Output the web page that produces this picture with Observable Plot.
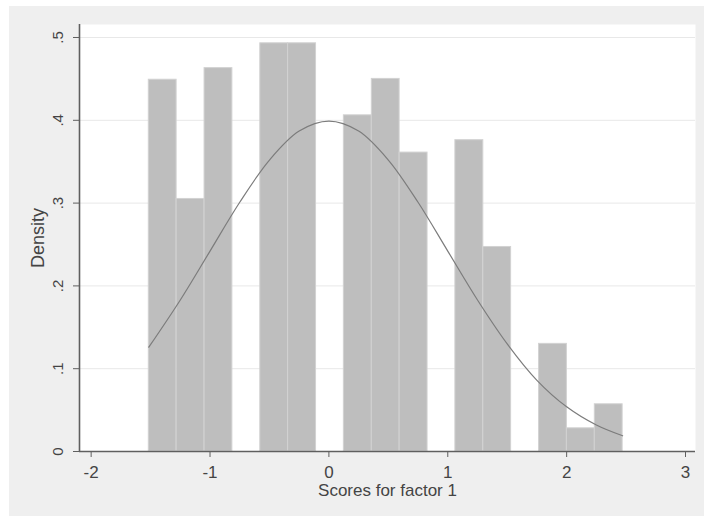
<!DOCTYPE html>
<html>
<head>
<meta charset="utf-8">
<script src="https://cdn.jsdelivr.net/npm/d3@7"></script>
<script src="https://cdn.jsdelivr.net/npm/@observablehq/plot@0.6"></script>
<style>
  html, body { margin: 0; padding: 0; background: #ffffff; }
  #wrap { position: relative; width: 704px; height: 517px; background: #ffffff; overflow: hidden; }
  #bg { position: absolute; left: 9px; top: 6px; right: 0; bottom: 1px; background: #efefef; }
  #chart { position: absolute; left: 0; top: 0; }
  text { font-family: "Liberation Sans", Arial, sans-serif; }
</style>
</head>
<body>
<div id="wrap"><div id="bg"></div><div id="chart"></div></div>
<script>
// Histogram bin edges (scores for factor 1)
const binEdges = [-1.515, -1.281, -1.046, -0.812, -0.577, -0.343, -0.108, 0.126, 0.361, 0.595, 0.830, 1.064, 1.299, 1.533, 1.768, 2.002, 2.237, 2.471];
// Density of each bin
const binDensity = [0.449, 0.305, 0.463, 0, 0.493, 0.493, 0, 0.406, 0.450, 0.361, 0, 0.376, 0.247, 0, 0.130, 0.028, 0.057];
// Normal density overlay
const curveX = [-1.515, -1.25, -1.0, -0.75, -0.5, -0.25, 0, 0.25, 0.5, 0.75, 1.0, 1.25, 1.5, 1.75, 2.0, 2.25, 2.471];
const curveY = [0.126, 0.183, 0.242, 0.301, 0.352, 0.387, 0.399, 0.387, 0.352, 0.301, 0.242, 0.183, 0.130, 0.086, 0.054, 0.032, 0.019];
// Axis ticks and labels
const xTicks = [-2, -1, 0, 1, 2, 3];
const xTickLabels = ["-2", "-1", "0", "1", "2", "3"];
const yTicks = [0, 0.1, 0.2, 0.3, 0.4, 0.5];
const yTickLabels = ["0", ".1", ".2", ".3", ".4", ".5"];
const yGrid = [0.1, 0.2, 0.3, 0.4, 0.5];
const xTitle = "Scores for factor 1";
const yTitle = "Density";

const bars = binDensity
  .map((d, i) => ({x1: binEdges[i], x2: binEdges[i + 1], y: d}))
  .filter(d => d.y > 0);
const curve = curveX.map((x, i) => ({x, y: curveY[i]}));

const xDomain = [-2.098, 3.084];
const yDomain = [0, 0.5157];

const chart = Plot.plot({
  width: 704,
  height: 517,
  marginLeft: 79,
  marginRight: 9,
  marginTop: 24,
  marginBottom: 66,
  style: {background: "transparent", fontFamily: "'Liberation Sans', Arial, sans-serif", color: "#444"},
  x: {domain: xDomain, axis: null},
  y: {domain: yDomain, axis: null},
  marks: [
    Plot.frame({fill: "#ffffff", stroke: "none"}),
    Plot.ruleY(yGrid, {y: d => d, stroke: "#e8e8e8", strokeWidth: 1}),
    Plot.rectY(bars, {x1: "x1", x2: "x2", y: "y", fill: "#bebebe", stroke: "#d2d2d2", strokeWidth: 1}),
    Plot.line(curve, {x: "x", y: "y", stroke: "#7c7c7c", strokeWidth: 1.2, curve: "catmull-rom"}),
    Plot.ruleX([xDomain[0]], {x: d => d, stroke: "#5f5f5f", strokeWidth: 1.6}),
    Plot.ruleY([0], {y: d => d, stroke: "#5f5f5f", strokeWidth: 1.6}),
    Plot.axisX({ticks: xTicks, tickSize: 6, tickPadding: 8, tickFormat: d => xTickLabels[xTicks.indexOf(d)], fontSize: 17, stroke: "#5f5f5f", fill: "#444", label: null}),
    Plot.axisY({ticks: yTicks, tickSize: 6, tickPadding: 11, tickRotate: -90, tickFormat: d => yTickLabels[yTicks.indexOf(d)], fontSize: 15, stroke: "#5f5f5f", fill: "#444", label: null}),
    Plot.text([xTitle], {text: d => d, frameAnchor: "bottom", dy: 39, fontSize: 17, fill: "#444", textAnchor: "middle", lineAnchor: "middle"}),
    Plot.text([yTitle], {text: d => d, frameAnchor: "left", dx: -41, rotate: -90, fontSize: 18, fill: "#444", textAnchor: "middle", lineAnchor: "middle"})
  ]
});
document.getElementById("chart").appendChild(chart);
</script>
</body>
</html>
